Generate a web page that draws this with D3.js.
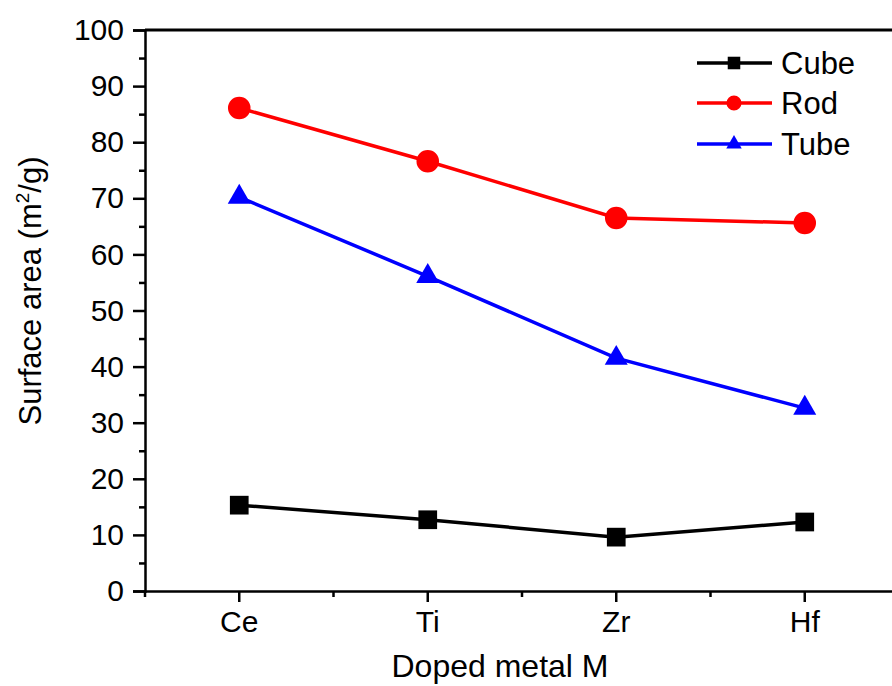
<!DOCTYPE html>
<html lang="en">
<head>
    <meta charset="UTF-8">
    <title>Surface area vs doped metal</title>
    <script src="https://d3js.org/d3.v7.min.js"></script>
    <style>
        body { margin: 0; background: #fff; }
        svg { font-family: "Liberation Sans", Arial, sans-serif; }
    </style>
</head>
<body>
    <svg width="892" height="686"></svg>

    <script>
        // Data
        const metals = ["Ce", "Ti", "Zr", "Hf"];
        const cube = [15.3, 12.7, 9.6, 12.3];
        const rod = [86.1, 76.6, 66.5, 65.6];
        const tube = [70.2, 56.1, 41.5, 32.6];
        const yTicks = [0, 10, 20, 30, 40, 50, 60, 70, 80, 90, 100];

        const series = [
            { name: "Cube", values: cube, color: "#000000", symbol: d3.symbolSquare, size: 350 },
            { name: "Rod", values: rod, color: "#ff0000", symbol: d3.symbolCircle, size: 400 },
            { name: "Tube", values: tube, color: "#0000ff", symbol: d3.symbolTriangle, size: 230 }
        ];

        const margin = { top: 30, left: 145, bottom: 591, right: 899 };
        const svg = d3.select("svg");

        // Scales
        const x = d3.scaleBand()
            .domain(metals)
            .range([margin.left, margin.right])
            .padding(0);
        const xc = d => x(d) + x.bandwidth() / 2;

        const y = d3.scaleLinear()
            .domain([0, 100])
            .range([margin.bottom, margin.top]);

        // Minor ticks
        const yMinor = d3.range(5, 100, 10);
        svg.append("g")
            .attr("transform", `translate(${margin.left},0)`)
            .call(d3.axisLeft(y).tickValues(yMinor).tickSize(6).tickFormat(""))
            .call(g => g.select(".domain").remove())
            .selectAll("line").attr("stroke-width", 2.5);

        const xBounds = metals.map(m => x(m)).concat([margin.right]);
        svg.append("g")
            .attr("transform", `translate(0,${margin.bottom})`)
            .selectAll("line")
            .data(xBounds)
            .join("line")
            .attr("x1", d => d).attr("x2", d => d)
            .attr("y1", 0).attr("y2", 6)
            .attr("stroke", "#000").attr("stroke-width", 2.5);

        // Y axis
        const yAxis = svg.append("g")
            .attr("transform", `translate(${margin.left},0)`)
            .call(d3.axisLeft(y).tickValues(yTicks).tickSize(12).tickPadding(9));
        yAxis.select(".domain").attr("stroke-width", 2.5);
        yAxis.selectAll(".tick line").attr("stroke-width", 2.5);
        yAxis.selectAll("text")
            .attr("font-size", 30)
            .attr("font-family", "Liberation Sans, Arial, sans-serif")
            .attr("fill", "#000");

        // X axis
        const xAxis = svg.append("g")
            .attr("transform", `translate(0,${margin.bottom})`)
            .call(d3.axisBottom(x).tickSize(11).tickSizeOuter(0).tickPadding(9));
        xAxis.select(".domain").attr("stroke-width", 2.5);
        xAxis.selectAll(".tick line").attr("stroke-width", 2.5);
        xAxis.selectAll("text")
            .attr("font-size", 30)
            .attr("font-family", "Liberation Sans, Arial, sans-serif")
            .attr("fill", "#000");

        // Top frame line
        svg.append("line")
            .attr("x1", margin.left).attr("x2", margin.right)
            .attr("y1", margin.top).attr("y2", margin.top)
            .attr("stroke", "#000").attr("stroke-width", 3);

        // Axis titles
        svg.append("text")
            .attr("x", 500).attr("y", 677)
            .attr("text-anchor", "middle")
            .attr("font-size", 32)
            .text("Doped metal M");

        const yTitle = svg.append("text")
            .attr("transform", "translate(41,291) rotate(-90)")
            .attr("text-anchor", "middle")
            .attr("font-size", 31);
        yTitle.append("tspan").text("Surface area (m");
        yTitle.append("tspan").attr("font-size", 19).attr("dy", -12).text("2");
        yTitle.append("tspan").attr("dy", 12).text("/g)");

        // Lines and markers
        const line = d3.line()
            .x((d, i) => xc(metals[i]))
            .y(d => y(d));

        series.forEach(s => {
            svg.append("path")
                .datum(s.values)
                .attr("fill", "none")
                .attr("stroke", s.color)
                .attr("stroke-width", 3.5)
                .attr("d", line);

            svg.append("g")
                .selectAll("path")
                .data(s.values)
                .join("path")
                .attr("transform", (d, i) => `translate(${xc(metals[i])},${y(d)})`)
                .attr("d", d3.symbol().type(s.symbol).size(s.size))
                .attr("fill", s.color);
        });

        // Legend
        const legend = svg.append("g");
        const legendRows = [63, 103, 144];
        series.forEach((s, i) => {
            const g = legend.append("g").attr("transform", `translate(0,${legendRows[i]})`);
            g.append("line")
                .attr("x1", 697).attr("x2", 772)
                .attr("stroke", s.color).attr("stroke-width", 3.5);
            g.append("path")
                .attr("transform", "translate(734,0)")
                .attr("d", d3.symbol().type(s.symbol).size(s.size * 0.45))
                .attr("fill", s.color);
            g.append("text")
                .attr("x", 781).attr("y", 11)
                .attr("font-size", 31)
                .text(s.name);
        });
    </script>
</body>
</html>
